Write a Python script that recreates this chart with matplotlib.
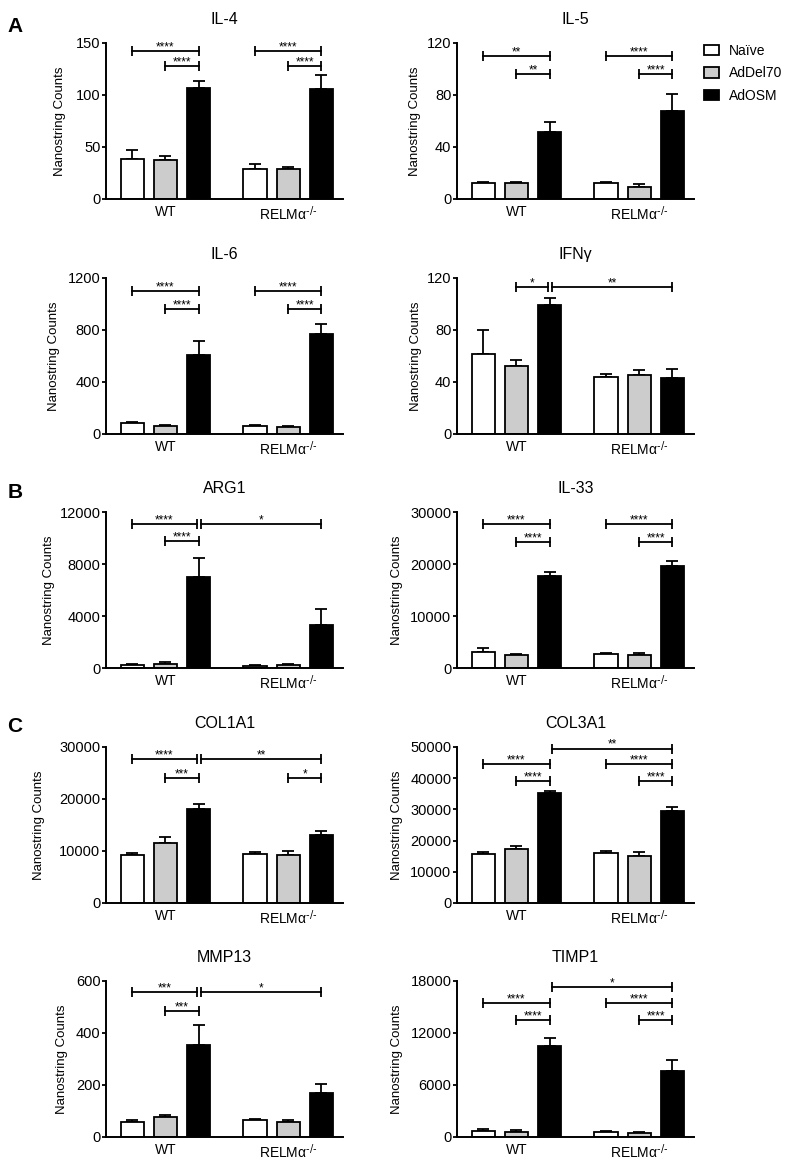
import matplotlib
matplotlib.use("Agg")
import matplotlib.pyplot as plt
import matplotlib.transforms as mtransforms
from matplotlib.patches import Patch
import numpy as np

plt.rcParams['font.family'] = ['Liberation Sans', 'DejaVu Sans']
plt.rcParams['mathtext.default'] = 'regular'

# groups / treatments
groups = ['WT', r'RELMα$^{\text{-/-}}$']
treatments = ['Naïve', 'AdDel70', 'AdOSM']
bar_colors = ['white', '#cccccc', 'black']

genes = ['IL-4', 'IL-5', 'IL-6', 'IFNγ', 'ARG1', 'IL-33', 'COL1A1', 'COL3A1', 'MMP13', 'TIMP1']

# means / sem, order: WT (Naive, AdDel70, AdOSM), RELMa-/- (Naive, AdDel70, AdOSM)
il4_mean = [38.5, 37.2, 106.7, 29.2, 29.2, 105.8]
il4_sem = [9, 3.8, 6.4, 4, 1.2, 13.8]
il5_mean = [12.3, 12.3, 51.4, 12.3, 9.5, 67.9]
il5_sem = [0.9, 0.9, 8.2, 0.9, 1.8, 12.8]
il6_mean = [82, 61, 606, 64, 51, 772]
il6_sem = [13, 5, 107, 5, 10, 72]
ifng_mean = [61.9, 52.4, 99.4, 43.6, 45.4, 42.8]
ifng_sem = [18, 4.9, 5.1, 2.6, 3.6, 7.5]
arg1_mean = [206, 308, 6990, 180, 231, 3290]
arg1_sem = [77, 180, 1440, 50, 50, 1260]
il33_mean = [3150, 2570, 17730, 2700, 2570, 19650]
il33_sem = [640, 190, 770, 130, 320, 900]
col1a1_mean = [9170, 11540, 18010, 9360, 9170, 13010]
col1a1_sem = [450, 1150, 1090, 450, 830, 770]
col3a1_mean = [15850, 17450, 35330, 16060, 15200, 29340]
col3a1_sem = [640, 750, 430, 640, 1290, 1280]
mmp13_mean = [59, 76, 352, 64, 59, 168]
mmp13_sem = [5, 10, 77, 5, 5, 36]
timp1_mean = [730, 580, 10520, 540, 500, 7590]
timp1_sem = [230, 190, 930, 115, 120, 1240]

means = [il4_mean, il5_mean, il6_mean, ifng_mean, arg1_mean, il33_mean,
         col1a1_mean, col3a1_mean, mmp13_mean, timp1_mean]
sems = [il4_sem, il5_sem, il6_sem, ifng_sem, arg1_sem, il33_sem,
        col1a1_sem, col3a1_sem, mmp13_sem, timp1_sem]

ymax = [150, 120, 1200, 120, 12000, 30000, 30000, 50000, 600, 18000]
ystep = [50, 40, 400, 40, 4000, 10000, 10000, 10000, 200, 6000]

# significance brackets: (bar i, bar j, height as axes fraction, label)
brackets = [
    [(0, 2, 0.95, '****'), (1, 2, 0.854, '****'), (3, 5, 0.95, '****'), (4, 5, 0.854, '****')],
    [(0, 2, 0.917, '**'), (1, 2, 0.80, '**'), (3, 5, 0.917, '****'), (4, 5, 0.80, '****')],
    [(0, 2, 0.917, '****'), (1, 2, 0.80, '****'), (3, 5, 0.917, '****'), (4, 5, 0.80, '****')],
    [(1, 2, 0.944, '*'), (2, 5, 0.944, '**')],
    [(0, 2, 0.92, '****'), (1, 2, 0.815, '****'), (2, 5, 0.92, '*')],
    [(0, 2, 0.92, '****'), (1, 2, 0.81, '****'), (3, 5, 0.92, '****'), (4, 5, 0.81, '****')],
    [(0, 2, 0.92, '****'), (1, 2, 0.80, '***'), (2, 5, 0.92, '**'), (4, 5, 0.80, '*')],
    [(2, 5, 0.99, '**'), (0, 2, 0.89, '****'), (1, 2, 0.78, '****'), (3, 5, 0.89, '****'), (4, 5, 0.78, '****')],
    [(0, 2, 0.927, '***'), (1, 2, 0.81, '***'), (2, 5, 0.927, '*')],
    [(2, 5, 0.96, '*'), (0, 2, 0.858, '****'), (1, 2, 0.75, '****'), (3, 5, 0.858, '****'), (4, 5, 0.75, '****')],
]

# layout in pixels
W, H = 790, 1166
col_left = [106, 457]
row_zero = [199, 434, 668, 903, 1137]
ax_w, ax_h = 237, 156
ylabel_px = [66, 421, 60, 422, 55, 403, 45, 403, 68, 403]

xpos = np.array([0, 1, 2, 3.7, 4.7, 5.7])

fig = plt.figure(figsize=(W / 100, H / 100), dpi=100)

for k, gene in enumerate(genes):
    r, c = divmod(k, 2)
    left = col_left[c]
    ax = fig.add_axes([left / W, 1 - row_zero[r] / H, ax_w / W, ax_h / H])
    m = np.array(means[k])
    s = np.array(sems[k])
    cols = bar_colors * 2
    ax.errorbar(xpos, m, yerr=[np.zeros_like(s), s], fmt='none', ecolor='black',
                elinewidth=1.3, capsize=4, capthick=1.3, zorder=1)
    ax.bar(xpos, m, width=0.7, color=cols, edgecolor='black', linewidth=1.3, zorder=2)

    ax.set_xlim(-0.79, 6.35)
    ax.set_ylim(0, ymax[k])
    ax.set_yticks(np.arange(0, ymax[k] + 1, ystep[k]))
    ax.set_xticks([xpos[1], xpos[4]])
    ax.set_xticklabels(groups, fontsize=10)
    ax.tick_params(axis='x', length=0, pad=4)
    ax.tick_params(axis='y', length=3, width=1.3, pad=1, labelsize=10.5)
    for sp in ['top', 'right']:
        ax.spines[sp].set_visible(False)
    for sp in ['left', 'bottom']:
        ax.spines[sp].set_linewidth(1.4)
    ax.set_title(gene, fontsize=11.5, pad=14)
    ax.set_ylabel('Nanostring Counts', fontsize=9.5)
    ax.yaxis.set_label_coords((ylabel_px[k] - left) / ax_w, 0.5)

    trans = mtransforms.blended_transform_factory(ax.transData, ax.transAxes)
    levels_cross = [b[2] for b in brackets[k] if b[0] == 2]
    for i, j, yf, lab in brackets[k]:
        x1, x2 = xpos[i], xpos[j]
        if i == 2:
            x1 += 0.06
        if j == 2 and yf in levels_cross:
            x2 -= 0.06
        ax.plot([x1, x2], [yf, yf], transform=trans, color='black', lw=1.3,
                marker='|', ms=6.5, mew=1.3, clip_on=False, zorder=3)
        ax.annotate(lab, xy=((x1 + x2) / 2, yf), xycoords=trans, xytext=(0, 0.5),
                    textcoords='offset points', ha='center', va='baseline', fontsize=8.5)

# panel letters
for lab, ypx in zip(['A', 'B', 'C'], [26, 493, 727]):
    fig.text(15 / W, 1 - ypx / H, lab, fontsize=15, fontweight='bold', ha='center', va='center')

handles = [Patch(facecolor=bc, edgecolor='black', linewidth=1.3) for bc in bar_colors]
fig.legend(handles, treatments, loc='upper left', bbox_to_anchor=(704 / W, 1 - 44 / H),
           frameon=False, fontsize=10, handlelength=1.1, handleheight=0.8,
           handletextpad=0.7, labelspacing=0.6, borderpad=0, borderaxespad=0)

fig.savefig('out.png', dpi=100)
